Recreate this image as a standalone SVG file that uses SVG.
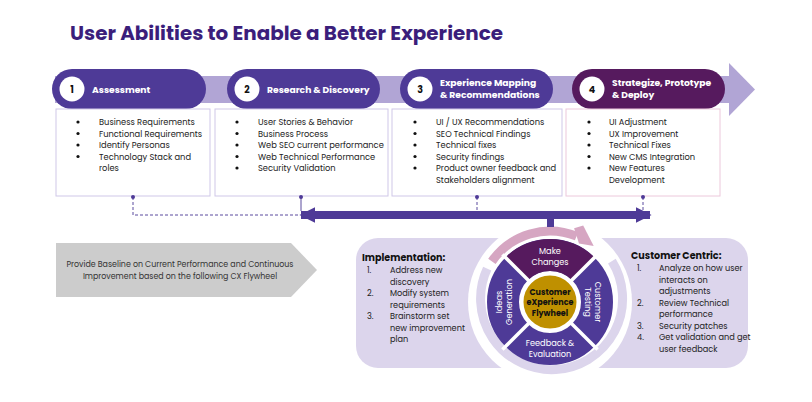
<svg xmlns="http://www.w3.org/2000/svg" width="812" height="402" viewBox="0 0 812 402">
<defs>
<style>
text{font-family:Poppins,"Open Sans","Liberation Sans",sans-serif;}
.title{font-size:20px;font-weight:700;fill:#3b1e7b;}
.hd{font-size:9.2px;font-weight:700;fill:#ffffff;}
.num{font-size:9.5px;font-weight:700;fill:#111111;text-anchor:middle;}
.it{font-size:8.3px;fill:#222222;}
.pn{font-size:8.2px;fill:#222222;}
.ph{font-size:9.6px;font-weight:700;fill:#111111;}
.wh{font-size:8.2px;fill:#ffffff;text-anchor:middle;}
.gd{font-size:8px;font-weight:700;fill:#111111;text-anchor:middle;}
.gr{font-size:7.9px;fill:#333333;text-anchor:middle;}
.box{fill:#ffffff;stroke:#cfc7e8;stroke-width:1;}
.pill{fill:#4e3a97;}
.circ{fill:#ffffff;}
.dash{stroke:#5a4a9e;stroke-width:1;stroke-dasharray:3 2;fill:none;}
.dot{fill:#4e3a97;}
.bul{fill:#111111;}
</style>
<marker id="ah" viewBox="0 0 10 10" refX="9" refY="5" markerWidth="2" markerHeight="2" orient="auto-start-reverse" markerUnits="strokeWidth">
<path d="M0,0 L10,5 L0,10 Z" fill="#4e3a97"/>
</marker>
</defs>

<text class="title" x="70" y="40" textLength="433" lengthAdjust="spacingAndGlyphs">User Abilities to Enable a Better Experience</text>

<g id="band">
<rect x="55" y="76" width="676" height="27" fill="#b1a5d5"/>
<polygon points="729,63 755,89.5 729,116" fill="#b1a5d5"/>
</g>

<g id="step1">
<rect class="pill" x="52" y="69" width="154" height="40" rx="20"/>
<circle class="circ" cx="72" cy="89" r="12.5"/>
<text class="num" x="72" y="92.5">1</text>
<text class="hd" x="92" y="92.5">Assessment</text>
<rect class="box" x="56" y="109" width="154" height="87"/>
<circle class="bul" cx="78" cy="122" r="1.6"/>
<circle class="bul" cx="78" cy="133.5" r="1.6"/>
<circle class="bul" cx="78" cy="145" r="1.6"/>
<circle class="bul" cx="78" cy="156.5" r="1.6"/>
<text class="it" x="99" y="125">Business Requirements</text>
<text class="it" x="99" y="136.5">Functional Requirements</text>
<text class="it" x="99" y="148">Identify Personas</text>
<text class="it" x="99" y="159.5">Technology Stack and</text>
<text class="it" x="99" y="171">roles</text>
</g>

<g id="step2">
<rect class="pill" x="227" y="69" width="153" height="40" rx="20"/>
<circle class="circ" cx="247" cy="89" r="12.5"/>
<text class="num" x="247" y="92.5">2</text>
<text class="hd" x="267" y="92.5">Research &amp; Discovery</text>
<rect class="box" x="215" y="109" width="173" height="87"/>
<circle class="bul" cx="237" cy="122" r="1.6"/>
<circle class="bul" cx="237" cy="133.5" r="1.6"/>
<circle class="bul" cx="237" cy="145" r="1.6"/>
<circle class="bul" cx="237" cy="156.5" r="1.6"/>
<circle class="bul" cx="237" cy="168" r="1.6"/>
<text class="it" x="258" y="125">User Stories &amp; Behavior</text>
<text class="it" x="258" y="136.5">Business Process</text>
<text class="it" x="258" y="148">Web SEO current performance</text>
<text class="it" x="258" y="159.5">Web Technical Performance</text>
<text class="it" x="258" y="171">Security Validation</text>
</g>

<g id="step3">
<rect class="pill" x="400" y="69" width="153" height="40" rx="20"/>
<circle class="circ" cx="420" cy="89" r="12.5"/>
<text class="num" x="420" y="92.5">3</text>
<text class="hd" x="440" y="85.5">Experience Mapping</text>
<text class="hd" x="440" y="98">&amp; Recommendations</text>
<rect class="box" x="392" y="109" width="170" height="87"/>
<circle class="bul" cx="415" cy="122" r="1.6"/>
<circle class="bul" cx="415" cy="133.5" r="1.6"/>
<circle class="bul" cx="415" cy="145" r="1.6"/>
<circle class="bul" cx="415" cy="156.5" r="1.6"/>
<circle class="bul" cx="415" cy="168" r="1.6"/>
<text class="it" x="436" y="125">UI / UX Recommendations</text>
<text class="it" x="436" y="136.5">SEO Technical Findings</text>
<text class="it" x="436" y="148">Technical fixes</text>
<text class="it" x="436" y="159.5">Security findings</text>
<text class="it" x="436" y="171">Product owner feedback and</text>
<text class="it" x="436" y="182.5">Stakeholders alignment</text>
</g>

<g id="step4">
<rect x="572" y="69" width="153" height="40" rx="20" fill="#561a5e"/>
<circle class="circ" cx="592" cy="89" r="12.5"/>
<text class="num" x="592" y="92.5">4</text>
<text class="hd" x="612" y="85.5">Strategize, Prototype</text>
<text class="hd" x="612" y="98">&amp; Deploy</text>
<rect x="566" y="109" width="154" height="87" fill="#ffffff" stroke="#ecc8db" stroke-width="1"/>
<circle class="bul" cx="589" cy="122" r="1.6"/>
<circle class="bul" cx="589" cy="133.5" r="1.6"/>
<circle class="bul" cx="589" cy="145" r="1.6"/>
<circle class="bul" cx="589" cy="156.5" r="1.6"/>
<circle class="bul" cx="589" cy="168" r="1.6"/>
<text class="it" x="609" y="125">UI Adjustment</text>
<text class="it" x="609" y="136.5">UX Improvement</text>
<text class="it" x="609" y="148">Technical Fixes</text>
<text class="it" x="609" y="159.5">New CMS Integration</text>
<text class="it" x="609" y="171">New Features</text>
<text class="it" x="609" y="182.5">Development</text>
</g>

<g id="baseline">
<polygon points="56,243 291,243 317,270 291,297 56,297" fill="#cccccc"/>
<text class="gr" x="180" y="267">Provide Baseline on Current Performance and Continuous</text>
<text class="gr" x="180" y="279">Improvement based on the following CX Flywheel</text>
</g>

<g id="panels">
<rect x="356" y="238" width="220" height="130" rx="22" fill="#dcd5ec"/>
<rect x="524" y="238" width="224" height="130" rx="22" fill="#dcd5ec"/>
<circle cx="550" cy="302" r="82" fill="#ffffff"/>
</g>

<g id="implementation">
<text class="ph" x="362" y="261">Implementation:</text>
<text class="pn" x="367" y="273">1.</text>
<text class="pn" x="390" y="273">Address new</text>
<text class="pn" x="390" y="284.5">discovery</text>
<text class="pn" x="367" y="296">2.</text>
<text class="pn" x="390" y="296">Modify system</text>
<text class="pn" x="390" y="307.5">requirements</text>
<text class="pn" x="367" y="319">3.</text>
<text class="pn" x="390" y="319">Brainstorm set</text>
<text class="pn" x="390" y="330.5">new improvement</text>
<text class="pn" x="390" y="342">plan</text>
</g>

<g id="customer-centric">
<text class="ph" x="631" y="258.5">Customer Centric:</text>
<text class="pn" x="637" y="271">1.</text>
<text class="pn" x="659" y="271">Analyze on how user</text>
<text class="pn" x="659" y="282.5">interacts on</text>
<text class="pn" x="659" y="294">adjustments</text>
<text class="pn" x="637" y="305.5">2.</text>
<text class="pn" x="659" y="305.5">Review Technical</text>
<text class="pn" x="659" y="317">performance</text>
<text class="pn" x="637" y="328.5">3.</text>
<text class="pn" x="659" y="328.5">Security patches</text>
<text class="pn" x="637" y="340">4.</text>
<text class="pn" x="659" y="340">Get validation and get</text>
<text class="pn" x="659" y="351.5">user feedback</text>
</g>

<g id="flywheel">
<path d="M 611.9 261.2 A 71 71 0 1 1 487.2 268.7" fill="none" stroke="#dcd5ec" stroke-width="9"/>
<path d="M 491.9 261.3 A 71 71 0 0 1 576.6 236.2" fill="none" stroke="#d6a6c2" stroke-width="9"/>
<polygon points="574.1,228.2 583.2,225.5 593.7,246.0 579.0,243.5" fill="#d6a6c2"/>
<circle cx="550" cy="302" r="47" fill="none" stroke="#4e3a97" stroke-width="32"/>
<path d="M 505.45 257.45 A 63 63 0 0 1 594.55 257.45 L 571.92 280.08 A 31 31 0 0 0 528.08 280.08 Z" fill="#561a5e"/>
<g stroke="#ffffff" stroke-width="3.5">
<line x1="528.8" y1="280.8" x2="502.4" y2="254.4"/>
<line x1="571.2" y1="280.8" x2="597.6" y2="254.4"/>
<line x1="528.8" y1="323.2" x2="502.4" y2="349.6"/>
<line x1="571.2" y1="323.2" x2="597.6" y2="349.6"/>
</g>
<circle cx="550" cy="302" r="28" fill="#bf9000" stroke="#ffffff" stroke-width="3"/>
<text class="gd" x="550" y="294.5">Customer</text>
<text class="gd" x="550" y="305">eXperience</text>
<text class="gd" x="550" y="315.5">Flywheel</text>
<text class="wh" x="550" y="254">Make</text>
<text class="wh" x="550" y="264.5">Changes</text>
<text class="wh" x="550" y="346">Feedback &amp;</text>
<text class="wh" x="550" y="356.5">Evaluation</text>
<text class="wh" transform="translate(598,302) rotate(90)" x="0" y="3">Customer</text>
<text class="wh" transform="translate(588,302) rotate(90)" x="0" y="3">Testing</text>
<text class="wh" transform="translate(499,302) rotate(-90)" x="0" y="3">Ideas</text>
<text class="wh" transform="translate(509,302) rotate(-90)" x="0" y="3">Generation</text>
</g>

<g id="connectors">
<path class="dash" d="M133 197 V215 H298"/>
<line x1="301" y1="197" x2="301" y2="211" stroke="#5a4a9e" stroke-width="1"/>
<line class="dash" x1="477" y1="197" x2="477" y2="211"/>
<line class="dash" x1="643" y1="197" x2="643" y2="211"/>
<circle class="dot" cx="133" cy="197" r="2"/>
<circle class="dot" cx="301" cy="197" r="2"/>
<circle class="dot" cx="477" cy="197" r="2"/>
<circle class="dot" cx="643" cy="197" r="2"/>
<line x1="301" y1="215" x2="650" y2="215" stroke="#4e3a97" stroke-width="8" marker-start="url(#ah)" marker-end="url(#ah)"/>
<rect x="547" y="218" width="7" height="9" fill="#4e3a97"/>
</g>
</svg>
